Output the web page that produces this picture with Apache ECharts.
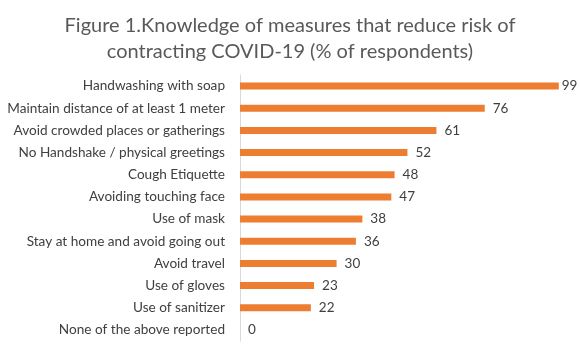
<!DOCTYPE html>
<html>
<head>
<meta charset="utf-8">
<script src="https://cdn.jsdelivr.net/npm/echarts@6/dist/echarts.min.js"></script>
<style>
  html, body { margin: 0; padding: 0; background: #fff; }
  #chart { width: 580px; height: 350px; }
</style>
</head>
<body>
<div id="chart"></div>
<script>
// Measures reported by respondents, top to bottom
const measures = [
  'Handwashing with soap',
  'Maintain distance of at least 1 meter',
  'Avoid crowded places or gatherings',
  'No Handshake / physical greetings',
  'Cough Etiquette',
  'Avoiding touching face',
  'Use of mask',
  'Stay at home and avoid going out',
  'Avoid travel',
  'Use of gloves',
  'Use of sanitizer',
  'None of the above reported'
];
// Share of respondents (%)
const percentages = [99, 76, 61, 52, 48, 47, 38, 36, 30, 23, 22, 0];

const FONT = 'Lato, "Open Sans", sans-serif';
const chart = echarts.init(document.getElementById('chart'));

// The longest bar runs close to the right edge, so its label hugs the bar
const maxValue = Math.max(...percentages);
const barData = percentages.map(v =>
  v === maxValue ? { value: v, label: { distance: 3 } } : v
);

chart.setOption({
  animation: false,
  title: {
    text: 'Figure 1.Knowledge of measures that reduce risk of\ncontracting COVID-19 (% of respondents)',
    left: 'center',
    top: 8,
    textStyle: {
      fontFamily: FONT,
      fontSize: 20,
      fontWeight: 'normal',
      color: '#595959',
      lineHeight: 26
    }
  },
  grid: { left: 240, top: 75, width: 322, height: 266, containLabel: false },
  xAxis: {
    type: 'value',
    min: 0,
    max: 100,
    show: false
  },
  yAxis: {
    type: 'category',
    data: measures,
    inverse: true,
    axisLine: { show: true, lineStyle: { color: '#d9d9d9', width: 1 } },
    axisTick: { show: false },
    axisLabel: {
      margin: 15,
      fontFamily: FONT,
      fontSize: 13.6,
      color: '#404040'
    }
  },
  series: [{
    type: 'bar',
    data: barData,
    barWidth: 7,
    itemStyle: { color: '#ED7D31' },
    label: {
      show: true,
      position: 'right',
      distance: 8,
      fontFamily: FONT,
      fontSize: 13.5,
      color: '#404040'
    }
  }]
});
</script>
</body>
</html>
